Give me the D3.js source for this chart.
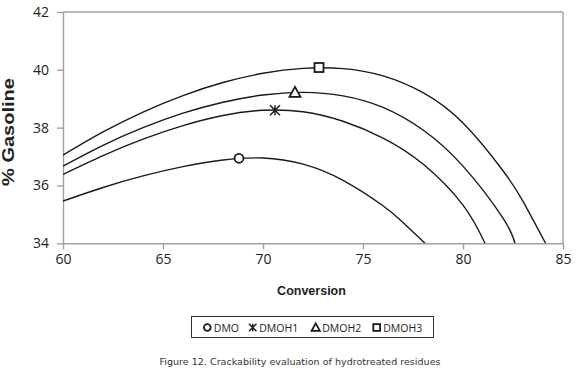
<!DOCTYPE html>
<html><head><meta charset="utf-8">
<script src="https://cdn.jsdelivr.net/npm/d3@7"></script>
<style>body{margin:0;background:#fff}svg{display:block}</style>
</head><body>
<svg id="c" width="580" height="375"></svg>
<script>
const seriesNames = ["DMO","DMOH1","DMOH2","DMOH3"];
const curveDMO   = [[60,35.46],[62,35.93],[64,36.33],[66,36.65],[68,36.88],[70,36.95],[72,36.74],[74,36.18],[76,35.3],[77,34.72],[78.1,34.0]];
const curveDMOH1 = [[60,36.38],[62,37.03],[64,37.6],[66,38.07],[68,38.42],[70,38.6],[72,38.55],[74,38.22],[76,37.64],[78,36.74],[80,35.32],[81.1,34.0]];
const curveDMOH2 = [[60,36.67],[62,37.39],[64,38.0],[66,38.5],[68,38.88],[70,39.13],[72,39.22],[74,39.1],[76,38.7],[78,37.92],[80,36.67],[82,34.87],[82.6,34.0]];
const curveDMOH3 = [[60,37.05],[62,37.85],[64,38.54],[66,39.11],[68,39.56],[70,39.88],[72,40.05],[74,40.04],[76,39.79],[78,39.21],[80,38.16],[82,36.51],[83,35.45],[84.13,34.0]];
const markerX = [68.8, 70.6, 71.6, 72.8];
const markerY = [36.94, 38.6, 39.22, 40.08];
const xTicks = [60,65,70,75,80,85];
const yTicks = [34,36,38,40,42];

const svg = d3.select("#c");
const L=63,R=563,T=12,B=243.3;
const x = d3.scaleLinear().domain([60,85]).range([L,R]);
const y = d3.scaleLinear().domain([34,42]).range([B,T]);
const axisCol="#a0a0a0";

svg.append("line").attr("x1",L).attr("x2",R).attr("y1",T).attr("y2",T).attr("stroke",axisCol).attr("stroke-width",1.4);
svg.append("line").attr("x1",R).attr("x2",R).attr("y1",T).attr("y2",B).attr("stroke",axisCol).attr("stroke-width",1.4);

const xa = svg.append("g").attr("transform",`translate(0,${B})`)
  .call(d3.axisBottom(x).tickValues(xTicks).tickSize(6).tickSizeOuter(0).tickPadding(5));
const ya = svg.append("g").attr("transform",`translate(${L},0)`)
  .call(d3.axisLeft(y).tickValues(yTicks).tickSize(6).tickSizeOuter(0).tickPadding(8));
[xa,ya].forEach(g=>{
  g.selectAll("path,line").attr("stroke",axisCol).attr("stroke-width",1.4);
  g.selectAll("text").attr("font-family","'Open Sans',sans-serif").attr("font-size",14).attr("fill","#222");
});

svg.append("defs").append("clipPath").attr("id","clip").append("rect").attr("x",L).attr("y",T).attr("width",R-L).attr("height",B-T);
const line = d3.line().x(d=>x(d[0])).y(d=>y(d[1])).curve(d3.curveNatural);
[curveDMO,curveDMOH1,curveDMOH2,curveDMOH3].forEach(c=>{
  svg.append("path").attr("clip-path","url(#clip)").attr("d",line(c)).attr("fill","none").attr("stroke","#1a1a1a").attr("stroke-width",1.4);
});

function marker(g,type,cx,cy,s,sw){
  const col="#1a1a1a";
  if(type===0) g.append("circle").attr("cx",cx).attr("cy",cy).attr("r",s*0.45).attr("fill","#fff").attr("stroke",col).attr("stroke-width",sw);
  else if(type===1){
    const h=s*0.5;
    g.append("path").attr("d",`M${cx-h},${cy-h}L${cx+h},${cy+h}M${cx-h},${cy+h}L${cx+h},${cy-h}M${cx},${cy-h}L${cx},${cy+h}`).attr("stroke",col).attr("stroke-width",sw*0.8).attr("fill","none");
  } else if(type===2){
    const h=s*0.55;
    g.append("path").attr("d",`M${cx},${cy-h}L${cx+h},${cy+h*0.8}L${cx-h},${cy+h*0.8}Z`).attr("fill","#fff").attr("stroke",col).attr("stroke-width",sw);
  } else {
    const h=s*0.45;
    g.append("rect").attr("x",cx-h).attr("y",cy-h).attr("width",2*h).attr("height",2*h).attr("fill","#fff").attr("stroke",col).attr("stroke-width",sw);
  }
}
const mg = svg.append("g");
markerX.forEach((mx,i)=>marker(mg,i,x(mx),y(markerY[i]),10,1.8));

svg.append("text").attr("x",311.5).attr("y",295).attr("text-anchor","middle").attr("font-family","'Liberation Sans',Arial,sans-serif").attr("font-weight","bold").attr("font-size",12.5).attr("fill","#222").text("Conversion");
svg.append("text").attr("transform","translate(14,132) rotate(-90)").attr("text-anchor","middle").attr("font-family","'Liberation Sans',Arial,sans-serif").attr("font-weight","bold").attr("font-size",16).attr("textLength",108).attr("lengthAdjust","spacingAndGlyphs").attr("fill","#222").text("% Gasoline");

svg.append("rect").attr("x",191.5).attr("y",316.5).attr("width",242).attr("height",21).attr("fill","#fff").attr("stroke","#333").attr("stroke-width",1);
const legX=[207.3,252.7,315.7,376.7];
const lg=svg.append("g");
seriesNames.forEach((n,i)=>{
  marker(lg,i,legX[i],327.5,7.5,1.8);
  lg.append("text").attr("x",legX[i]+6.5).attr("y",331.5).attr("font-family","'Open Sans',sans-serif").attr("font-size",10.5).attr("fill","#222").text(n);
});

svg.append("text").attr("x",300).attr("y",365).attr("text-anchor","middle").attr("font-family","'DejaVu Sans',sans-serif").attr("font-size",9.5).attr("fill","#333").attr("textLength",281).attr("lengthAdjust","spacingAndGlyphs").text("Figure 12. Crackability evaluation of hydrotreated residues");
</script>
</body></html>
